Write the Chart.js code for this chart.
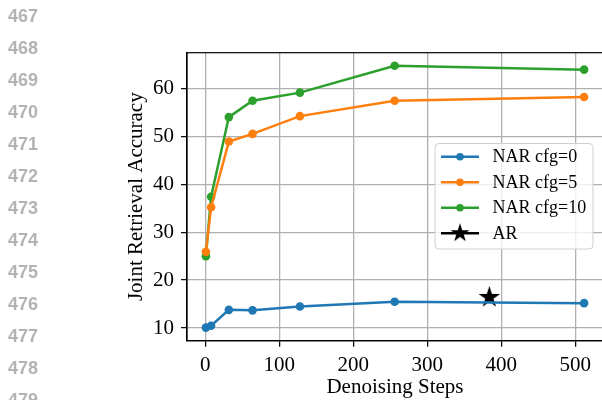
<!DOCTYPE html>
<html>
<head>
<meta charset="utf-8">
<script src="https://cdn.jsdelivr.net/npm/chart.js@4.4.1/dist/chart.umd.min.js"></script>
<style>
  html, body { margin: 0; padding: 0; background: #fff; overflow: hidden; }
  #wrap { position: relative; width: 602px; height: 400px; overflow: hidden; }
  #chart { position: absolute; left: 0; top: 0; }
  .lineno {
    position: absolute; left: 8px; width: 40px; height: 20px; line-height: 20px;
    font: bold 18px "Liberation Sans", Arial, sans-serif; color: #b3b3b3;
  }
</style>
</head>
<body>
<div id="wrap">
  <canvas id="chart" width="615" height="400"></canvas>
</div>
<script>
// Denoising steps and retrieval accuracy per setting
const steps = [1, 8, 32, 64, 128, 256, 512];
const cfg0 = [10.1, 10.5, 13.8, 13.7, 14.5, 15.5, 15.2];
const cfg5 = [25.9, 35.2, 48.9, 50.5, 54.2, 57.4, 58.2];
const cfg10 = [25.0, 37.4, 54.0, 57.4, 59.1, 64.7, 63.9];
const arStep = [384];
const arValue = [16.4];

const xTicks = [0, 100, 200, 300, 400, 500];
const yTicks = [10, 20, 30, 40, 50, 60];
const lineNumbers = [467, 468, 469, 470, 471, 472, 473, 474, 475, 476, 477, 478, 479];

// margin line numbers down the left side
const wrap = document.getElementById('wrap');
lineNumbers.forEach(function(n, i) {
    const d = document.createElement('div');
    d.className = 'lineno';
    d.style.top = (6 + i * 31.97) + 'px';
    d.textContent = n;
    wrap.appendChild(d);
});

// filled five point star used as a marker
function makeStar(r) {
    const c = document.createElement('canvas');
    const s = Math.ceil(r * 2 + 4);
    c.width = s; c.height = s;
    const g = c.getContext('2d');
    g.translate(s / 2, s / 2);
    g.beginPath();
    for (let i = 0; i < 10; i++) {
        const rad = i % 2 === 0 ? r : r * 0.382;
        const a = -Math.PI / 2 + i * Math.PI / 5;
        g.lineTo(rad * Math.cos(a), rad * Math.sin(a));
    }
    g.closePath();
    g.fillStyle = '#000';
    g.fill();
    return c;
}
const starBig = makeStar(11.4);
const starLegend = makeStar(10);

function pairs(xs, ys) {
    return xs.map(function(x, i) { return { x: x, y: ys[i] }; });
}

// matplotlib style 5% margins around the data
const allY = cfg0.concat(cfg5, cfg10, arValue);
const yLo = Math.min.apply(null, allY), yHi = Math.max.apply(null, allY);
const xLo = Math.min.apply(null, steps), xHi = Math.max.apply(null, steps);
const yPad = (yHi - yLo) * 0.05, xPad = (xHi - xLo) * 0.05;

function lineSet(label, ys, color) {
    return {
        label: label,
        data: pairs(steps, ys),
        borderColor: color,
        backgroundColor: color,
        borderWidth: 2.5,
        pointRadius: 4.3,
        pointHoverRadius: 4.3,
        pointBorderWidth: 0,
        tension: 0
    };
}

const datasets = [
    lineSet('NAR cfg=0', cfg0, '#1f77b4'),
    lineSet('NAR cfg=5', cfg5, '#ff7f0e'),
    lineSet('NAR cfg=10', cfg10, '#2ca02c'),
    {
        label: 'AR',
        data: pairs(arStep, arValue),
        borderColor: '#000',
        backgroundColor: '#000',
        showLine: false,
        pointStyle: starBig,
        pointRadius: 11
    }
];

// box around the plot plus the legend panel
const framePlugin = {
    id: 'frame',
    afterDatasetsDraw(chart) {
        const ctx = chart.ctx;
        const a = chart.chartArea;
        ctx.save();
        ctx.strokeStyle = '#000';
        ctx.lineWidth = 1.2;
        ctx.strokeRect(a.left, a.top, a.right - a.left, a.bottom - a.top);

        // legend
        const bx = 435, by = 143.5, bw = 158, bh = 105.5, rr = 4;
        ctx.beginPath();
        ctx.roundRect(bx, by, bw, bh, rr);
        ctx.fillStyle = 'rgba(255,255,255,0.8)';
        ctx.fill();
        ctx.strokeStyle = '#d0d0d0';
        ctx.lineWidth = 1;
        ctx.stroke();

        ctx.font = '18px "Liberation Serif", "Times New Roman", serif';
        ctx.textBaseline = 'middle';
        ctx.textAlign = 'left';
        chart.data.datasets.forEach(function(ds, i) {
            const y = 156.7 + i * 25.5;
            ctx.strokeStyle = ds.borderColor;
            ctx.lineWidth = 2.5;
            ctx.beginPath();
            ctx.moveTo(441, y);
            ctx.lineTo(479, y);
            ctx.stroke();
            if (ds.pointStyle === starBig) {
                ctx.drawImage(starLegend, 460 - starLegend.width / 2, y - starLegend.height / 2);
            } else {
                ctx.fillStyle = ds.borderColor;
                ctx.beginPath();
                ctx.arc(460, y, 3.8, 0, Math.PI * 2);
                ctx.fill();
            }
            ctx.fillStyle = '#000';
            ctx.fillText(ds.label, 492.5, y + 1);
        });
        ctx.restore();
    }
};

Chart.defaults.font.family = '"Liberation Serif", "Times New Roman", serif';
Chart.defaults.color = '#000';

new Chart(document.getElementById('chart').getContext('2d'), {
    type: 'line',
    data: { datasets: datasets },
    options: {
        responsive: false,
        animation: false,
        layout: { padding: { top: 52.7, right: 6.5, left: 0, bottom: 0 } },
        plugins: { legend: { display: false }, tooltip: { enabled: false } },
        scales: {
            x: {
                type: 'linear',
                min: xLo - xPad,
                max: xHi + xPad,
                afterBuildTicks: function(scale) { scale.ticks = xTicks.map(function(v) { return { value: v }; }); },
                afterFit: function(scale) { scale.height = 59.3; },
                ticks: { font: { size: 21 }, padding: 6, maxRotation: 0 },
                grid: { color: '#b0b0b0', lineWidth: 1.3, tickColor: '#000', tickLength: 6, tickWidth: 1.2 },
                border: { display: true, color: '#000', width: 1.2 },
                title: { display: true, text: 'Denoising Steps', font: { size: 21 }, padding: { top: 0, bottom: 0 } }
            },
            y: {
                type: 'linear',
                min: yLo - yPad,
                max: yHi + yPad,
                afterBuildTicks: function(scale) { scale.ticks = yTicks.map(function(v) { return { value: v }; }); },
                afterFit: function(scale) { scale.width = 187; },
                ticks: { font: { size: 21 }, padding: 7 },
                grid: { color: '#b0b0b0', lineWidth: 1.3, tickColor: '#000', tickLength: 6, tickWidth: 1.2 },
                border: { display: true, color: '#000', width: 1.2 },
                title: { display: true, text: 'Joint Retrieval Accuracy', font: { size: 21 }, padding: { top: 124, bottom: 0 } }
            }
        }
    },
    plugins: [framePlugin]
});
</script>
</body>
</html>
